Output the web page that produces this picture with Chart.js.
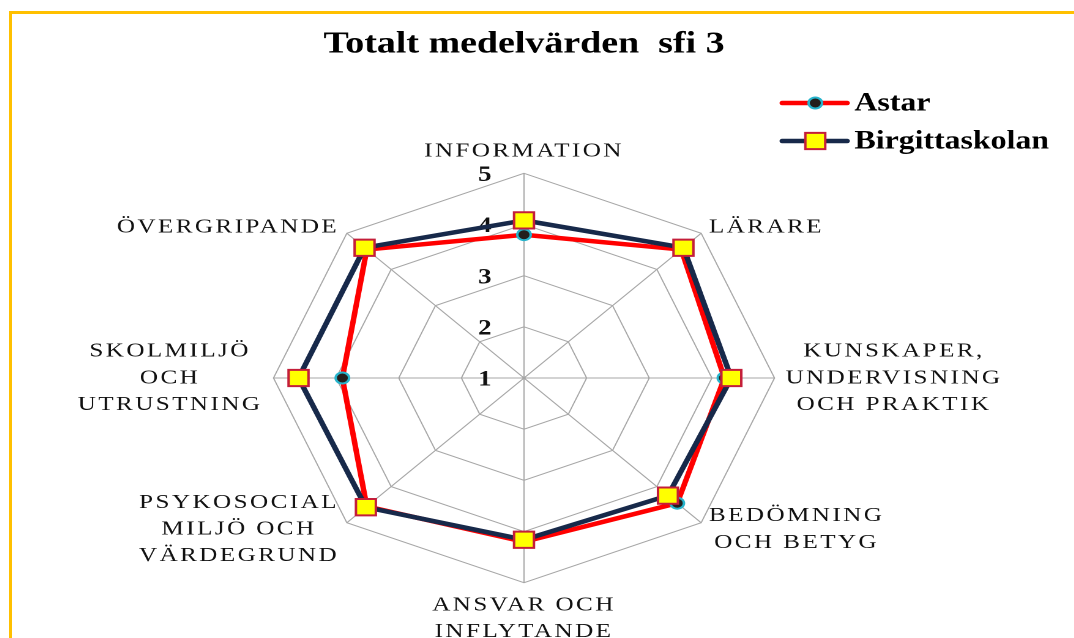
<!DOCTYPE html>
<html lang="sv">
<head>
    <meta charset="UTF-8">
    <title>Totalt medelvärden sfi 3</title>
    <script src="https://cdn.jsdelivr.net/npm/chart.js"></script>
    <style>
        html, body { margin: 0; padding: 0; background: #fff; width: 1074px; height: 638px; overflow: hidden; }
        #frame {
            position: absolute; left: 9px; top: 11px; width: 1200px; height: 800px;
            border-left: 3px solid #FFC000; border-top: 3px solid #FFC000;
            z-index: 2; pointer-events: none;
        }
        #chart { position: absolute; left: -39px; top: 0; }
    </style>
</head>
<body>
    <div id="frame"></div>
    <canvas id="chart" width="920" height="659"></canvas>

    <script>
        // --- data ---
        const AXIS_LABELS = [
            'INFORMATION',
            'LÄRARE',
            ['KUNSKAPER,', 'UNDERVISNING', 'OCH PRAKTIK'],
            ['BEDÖMNING', 'OCH BETYG'],
            ['ANSVAR OCH', 'INFLYTANDE'],
            ['PSYKOSOCIAL', 'MILJÖ OCH', 'VÄRDEGRUND'],
            ['SKOLMILJÖ', 'OCH', 'UTRUSTNING'],
            'ÖVERGRIPANDE'
        ];
        const ASTAR = [3.8, 4.55, 4.2, 4.46, 4.2, 4.55, 3.9, 4.55];
        const BIRGITTASKOLAN = [4.08, 4.6, 4.31, 4.25, 4.16, 4.57, 4.6, 4.6];
        const TICK_VALUES = [1, 2, 3, 4, 5];

        // the original picture is stretched sideways, so the canvas is too
        const STRETCH = 1.2244;
        const SERIF = "'Liberation Serif', 'Times New Roman', serif";
        const LABEL_SPACING = '2px';

        const canvas = document.getElementById('chart');
        canvas.style.width = (canvas.width * STRETCH) + 'px';
        canvas.style.height = canvas.height + 'px';

        // radial scale with letter spaced point labels
        const BaseRadial = Chart.RadialLinearScale || Chart.registry.getScale('radialLinear');
        class SpacedRadialScale extends BaseRadial {
            fit() {
                this.ctx.save();
                this.ctx.letterSpacing = LABEL_SPACING;
                super.fit();
                this.ctx.restore();
            }
            drawGrid() {
                this.ctx.save();
                this.ctx.letterSpacing = LABEL_SPACING;
                super.drawGrid();
                this.ctx.restore();
            }
        }
        SpacedRadialScale.id = 'spacedRadial';
        Chart.register(SpacedRadialScale);

        // centre the diagonal labels on their spoke and center the lines of each label
        function arrangePointLabels(scale) {
            const items = scale._pointLabelItems || [];
            items.forEach((item, i) => {
                const h = item.bottom - item.top;
                const w = item.right - item.left;
                if (i % 2 === 1) {
                    const shift = item.y < scale.yCenter ? h / 2 : -h / 2;
                    item.y += shift; item.top += shift; item.bottom += shift;
                }
                if (item.textAlign === 'left') item.x += w / 2;
                else if (item.textAlign === 'right') item.x -= w / 2;
                item.textAlign = 'center';
            });
        }

        const tickLabels = {
            id: 'tickLabels',
            beforeDatasetsDraw(chart) {
                const scale = chart.scales.r;
                const ctx = chart.ctx;
                ctx.save();
                ctx.font = 'bold 22px ' + SERIF;
                ctx.fillStyle = '#111';
                ctx.textAlign = 'center';
                ctx.textBaseline = 'middle';
                TICK_VALUES.forEach(v => {
                    const d = scale.getDistanceFromCenterForValue(v);
                    ctx.fillText(String(v), scale.xCenter - 32, scale.yCenter - d + 2);
                });
                ctx.restore();
            }
        };

        // legend in the top right corner, excel style (line with marker)
        const LEGEND_X0 = 671, LEGEND_X1 = 724, LEGEND_MARK_X = 698, LEGEND_TEXT_X = 730;
        const LEGEND_Y = [103, 141];
        const sideLegend = {
            id: 'sideLegend',
            afterDraw(chart) {
                const ctx = chart.ctx;
                chart.data.datasets.forEach((ds, i) => {
                    const y = LEGEND_Y[i];
                    ctx.save();
                    ctx.strokeStyle = ds.borderColor;
                    ctx.lineWidth = ds.borderWidth;
                    ctx.lineCap = 'round';
                    ctx.beginPath();
                    ctx.moveTo(LEGEND_X0, y);
                    ctx.lineTo(LEGEND_X1, y);
                    ctx.stroke();
                    ctx.fillStyle = ds.pointBackgroundColor;
                    ctx.strokeStyle = ds.pointBorderColor;
                    ctx.lineWidth = ds.pointBorderWidth;
                    Chart.helpers.drawPoint(ctx, {
                        pointStyle: ds.pointStyle, radius: ds.pointRadius,
                        rotation: 0, borderWidth: ds.pointBorderWidth
                    }, LEGEND_MARK_X, y);
                    ctx.fillStyle = '#000';
                    ctx.font = 'bold 26px ' + SERIF;
                    ctx.textAlign = 'left';
                    ctx.textBaseline = 'middle';
                    ctx.fillText(ds.label, LEGEND_TEXT_X, y + 1);
                    ctx.restore();
                });
            }
        };

        new Chart(canvas, {
            type: 'radar',
            data: {
                labels: AXIS_LABELS,
                datasets: [{
                    label: 'Astar',
                    data: ASTAR,
                    borderColor: '#FF0000',
                    borderWidth: 4.5,
                    borderJoinStyle: 'miter',
                    fill: false,
                    pointStyle: 'circle',
                    pointRadius: 5.5,
                    pointBackgroundColor: '#231F1C',
                    pointBorderColor: '#27B4CC',
                    pointBorderWidth: 2,
                    order: 2
                }, {
                    label: 'Birgittaskolan',
                    data: BIRGITTASKOLAN,
                    borderColor: '#17294A',
                    borderWidth: 4.5,
                    borderJoinStyle: 'miter',
                    fill: false,
                    pointStyle: 'rect',
                    pointRadius: 11.5,
                    pointBackgroundColor: '#FFFF00',
                    pointBorderColor: '#C41E3A',
                    pointBorderWidth: 2,
                    order: 1
                }]
            },
            options: {
                responsive: false,
                devicePixelRatio: 2,
                animation: false,
                events: [],
                layout: { padding: 0 },
                plugins: {
                    legend: { display: false },
                    tooltip: { enabled: false },
                    title: {
                        display: true,
                        text: 'Totalt medelvärden  sfi 3',
                        color: '#000',
                        font: { family: SERIF, size: 31, weight: 'bold', lineHeight: 1.2 },
                        padding: { top: 26, bottom: 62 }
                    }
                },
                scales: {
                    r: {
                        type: 'spacedRadial',
                        min: 1,
                        max: 5,
                        ticks: { stepSize: 1, display: false },
                        grid: { color: '#A6A6A6', lineWidth: 1 },
                        angleLines: { color: '#A6A6A6', lineWidth: 1 },
                        pointLabels: {
                            color: '#111',
                            padding: 9,
                            font: { family: SERIF, size: 20.5, lineHeight: 1.3 }
                        },
                        afterFit: arrangePointLabels
                    }
                }
            },
            plugins: [tickLabels, sideLegend]
        });
    </script>
</body>
</html>
